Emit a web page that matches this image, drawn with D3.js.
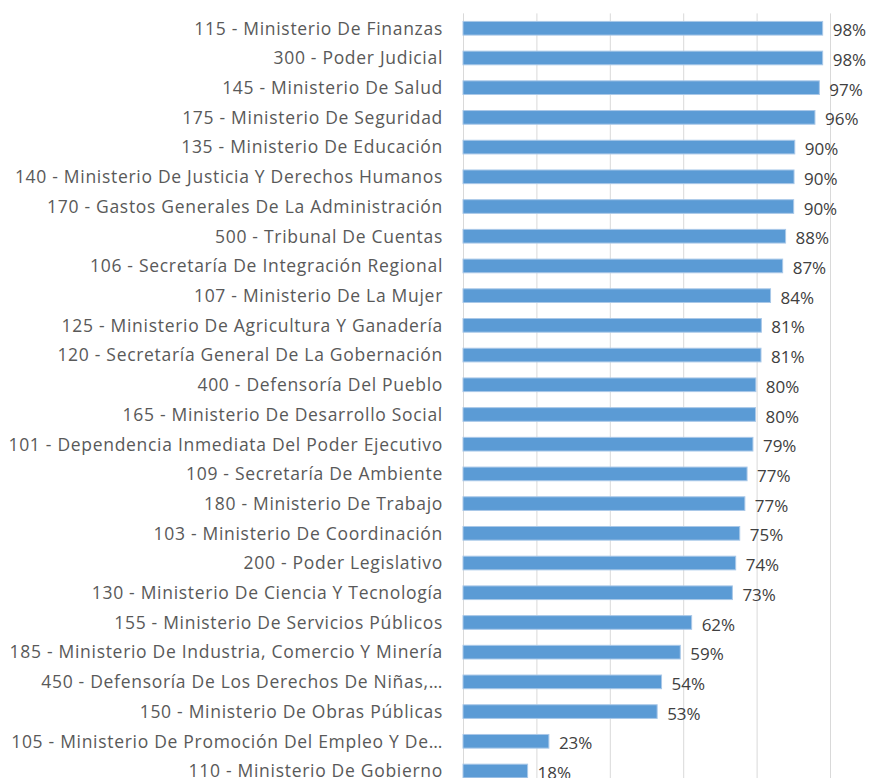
<!doctype html>
<html>
<head>
<meta charset="utf-8">
<style>
  body { margin: 0; background: #fff; }
  .grid line { stroke: #d9d9d9; stroke-width: 1; }
  .grid .domain { display: none; }
  .grid text { display: none; }
  .cat .tick line { display: none; }
  .cat .domain { stroke: #d9d9d9; }
  .cat text { fill: #595959; font-family: "Open Sans", sans-serif; font-size: 17.5px; letter-spacing: 0.7px; }
  .bar { fill: #5b9bd5; stroke: #a9c8e8; stroke-width: 1; }
  .val { fill: #404040; font-family: "Open Sans", sans-serif; font-size: 17px; }
</style>
<script src="https://d3js.org/d3.v7.min.js"></script>
</head>
<body>
<svg width="870" height="778" id="chart"></svg>
<script>
  var categories = [
    "115 - Ministerio De Finanzas",
    "300 - Poder Judicial",
    "145 - Ministerio De Salud",
    "175 - Ministerio De Seguridad",
    "135 - Ministerio De Educación",
    "140 - Ministerio De Justicia Y Derechos Humanos",
    "170 - Gastos Generales De La Administración",
    "500 - Tribunal De Cuentas",
    "106 - Secretaría De Integración Regional",
    "107 - Ministerio De La Mujer",
    "125 - Ministerio De Agricultura Y Ganadería",
    "120 - Secretaría General De La Gobernación",
    "400 - Defensoría Del Pueblo",
    "165 - Ministerio De Desarrollo Social",
    "101 - Dependencia Inmediata Del Poder Ejecutivo",
    "109 - Secretaría De Ambiente",
    "180 - Ministerio De Trabajo",
    "103 - Ministerio De Coordinación",
    "200 - Poder Legislativo",
    "130 - Ministerio De Ciencia Y Tecnología",
    "155 - Ministerio De Servicios Públicos",
    "185 - Ministerio De Industria, Comercio Y Minería",
    "450 - Defensoría De Los Derechos De Niñas,…",
    "150 - Ministerio De Obras Públicas",
    "105 - Ministerio De Promoción Del Empleo Y De…",
    "110 - Ministerio De Gobierno"
  ];
  var values = [
    0.980, 0.980, 0.971, 0.959, 0.904, 0.902, 0.901, 0.879, 0.871, 0.838,
    0.813, 0.812, 0.798, 0.797, 0.790, 0.774, 0.768, 0.754, 0.743, 0.734,
    0.623, 0.592, 0.541, 0.529, 0.234, 0.176
  ];
  var xTicks = [0, 0.2, 0.4, 0.6, 0.8, 1.0];

  var data = categories.map(function(c, i) { return { name: c, value: values[i] }; });

  var svg = d3.select("#chart"),
      marginLeft = 463, marginTop = 13.4,
      width = 367,
      height = 26 * 29.71;

  var g = svg.append("g").attr("transform", "translate(" + marginLeft + "," + marginTop + ")");

  var x = d3.scaleLinear().domain([0, 1]).range([0, width]);
  var y = d3.scaleBand().domain(categories).range([0, height])
            .paddingInner(0.54).paddingOuter(0.27);

  // vertical gridlines
  g.append("g")
   .attr("class", "grid")
   .attr("transform", "translate(0," + height + ")")
   .call(d3.axisBottom(x).tickValues(xTicks).tickSize(-height).tickFormat(d3.format(".0%")));

  // category axis
  g.append("g")
   .attr("class", "cat")
   .call(d3.axisLeft(y).tickSize(0).tickPadding(20))
   .selectAll("text")
   .attr("dy", "0.36em");

  g.selectAll(".bar")
   .data(data)
   .enter().append("rect")
   .attr("class", "bar")
   .attr("x", x(0))
   .attr("y", function(d) { return y(d.name); })
   .attr("width", function(d) { return x(d.value) - x(0); })
   .attr("height", y.bandwidth());

  g.selectAll(".val")
   .data(data)
   .enter().append("text")
   .attr("class", "val")
   .attr("x", function(d) { return x(d.value) + 10; })
   .attr("y", function(d) { return y(d.name) + y.bandwidth() / 2 + 2; })
   .attr("dy", "0.36em")
   .text(function(d) { return Math.round(d.value * 100) + "%"; });
</script>
</body>
</html>
